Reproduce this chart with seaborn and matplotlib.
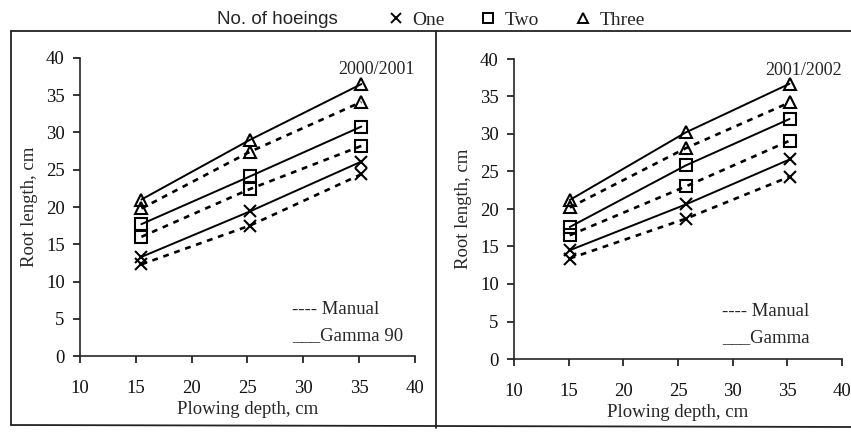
import numpy as np
import pandas as pd
import matplotlib
matplotlib.use("Agg")
import matplotlib.pyplot as plt
from matplotlib.lines import Line2D
import seaborn as sns

# ---------------- data ----------------
hoeings = ["One", "Two", "Three"]
methods = ["Manual", "Gamma"]

depth_2001 = [15.5, 25.2, 35.2]
one_manual_2001 = [12.3, 17.5, 24.4]
one_gamma_2001 = [13.3, 19.4, 26.1]
two_manual_2001 = [16.0, 22.4, 28.2]
two_gamma_2001 = [17.7, 24.1, 30.8]
three_manual_2001 = [19.8, 27.4, 34.1]
three_gamma_2001 = [21.0, 29.0, 36.5]

depth_2002 = [15.1, 25.7, 35.2]
one_manual_2002 = [13.4, 18.7, 24.3]
one_gamma_2002 = [14.5, 20.6, 26.6]
two_manual_2002 = [16.5, 23.0, 29.1]
two_gamma_2002 = [17.6, 25.8, 32.0]
three_manual_2002 = [20.2, 28.1, 34.2]
three_gamma_2002 = [21.2, 30.2, 36.7]

x_ticks = [10, 15, 20, 25, 30, 35, 40]
y_ticks = [0, 5, 10, 15, 20, 25, 30, 35, 40]


def make_df(depth, series):
    rows = []
    for (h, m), vals in series.items():
        for d, v in zip(depth, vals):
            rows.append({"depth": d, "length": v, "hoeings": h, "method": m})
    return pd.DataFrame(rows)


df1 = make_df(depth_2001, {
    ("One", "Manual"): one_manual_2001, ("One", "Gamma"): one_gamma_2001,
    ("Two", "Manual"): two_manual_2001, ("Two", "Gamma"): two_gamma_2001,
    ("Three", "Manual"): three_manual_2001, ("Three", "Gamma"): three_gamma_2001,
})
df2 = make_df(depth_2002, {
    ("One", "Manual"): one_manual_2002, ("One", "Gamma"): one_gamma_2002,
    ("Two", "Manual"): two_manual_2002, ("Two", "Gamma"): two_gamma_2002,
    ("Three", "Manual"): three_manual_2002, ("Three", "Gamma"): three_gamma_2002,
})

# ---------------- style ----------------
sns.set_theme(style="ticks")
plt.rcParams["font.family"] = ["Liberation Serif", "DejaVu Serif"]
plt.rcParams["axes.linewidth"] = 1.2

markers = {"One": "x", "Two": "s", "Three": "^"}
msizes = {"One": 9, "Two": 9, "Three": 8.5}
lstyles = {"Manual": (0, (2.2, 2.2)), "Gamma": "-"}
lwidths = {"Manual": 1.9, "Gamma": 1.4}

fig = plt.figure(figsize=(8.51, 4.36), dpi=100)
ax1 = fig.add_axes([80 / 851, 1 - 356 / 436, 335 / 851, 298 / 436])
ax2 = fig.add_axes([514 / 851, 1 - 359 / 436, 328 / 851, 300 / 436])


def draw(ax, df, year, gamma_label):
    for h in hoeings:
        for m in methods:
            sub = df[(df.hoeings == h) & (df.method == m)]
            sns.lineplot(data=sub, x="depth", y="length", ax=ax, color="black",
                         linestyle=lstyles[m], linewidth=lwidths[m],
                         marker=markers[h], markersize=msizes[h],
                         markerfacecolor="none", markeredgecolor="black",
                         markeredgewidth=1.5, legend=False)
    ax.set_xlim(10, 40)
    ax.set_ylim(0, 40)
    ax.set_xticks(x_ticks)
    ax.set_yticks(y_ticks)
    ax.tick_params(axis="y", direction="out", length=5, width=1.1,
                   labelsize=13.5, colors="black", pad=6)
    ax.tick_params(axis="x", direction="out", length=5, width=1.1,
                   labelsize=13.5, colors="black", pad=12)
    for lab in ax.get_xticklabels() + ax.get_yticklabels():
        lab.set_color("#111111")
    sns.despine(ax=ax)
    ax.set_xlabel("Plowing depth, cm", fontsize=13.5, labelpad=3)
    ax.set_ylabel("Root length, cm", fontsize=13.5, labelpad=6)
    ax.text(40, 39.6, year, ha="right", va="top", fontsize=13)
    ax.text(29.0, 6.3, "---- Manual", ha="left", va="center", fontsize=13.5)
    ax.text(29.0, 2.8, "___" + gamma_label, ha="left", va="center", fontsize=13.5)


draw(ax1, df1, "2000/2001", "Gamma 90")
draw(ax2, df2, "2001/2002", "Gamma")

# top legend
fig.text(217 / 851, 1 - 20 / 436, "No. of hoeings", ha="left", va="center",
         fontsize=13.5, family=["Liberation Sans", "DejaVu Sans"])
handles = [Line2D([], [], linestyle="none", marker=markers[h], markersize=7.5,
                  markerfacecolor="none", markeredgecolor="black",
                  markeredgewidth=1.4) for h in hoeings]
fig.legend(handles, hoeings, loc="center left", ncol=3, frameon=False,
           bbox_to_anchor=(386 / 851, 1 - 20 / 436), fontsize=14,
           handlelength=1.0, handletextpad=0.35, columnspacing=1.75,
           borderaxespad=0, borderpad=0)

# frame lines of the printed figure
for (x0, y0, x1, y1) in [(11, 31, 851, 31), (11, 31, 11, 425),
                         (11, 425, 851, 427), (436, 31, 436, 428)]:
    fig.add_artist(Line2D([x0 / 851, x1 / 851], [1 - y0 / 436, 1 - y1 / 436],
                          color="#222222", linewidth=1.3,
                          transform=fig.transFigure))

fig.savefig("out.png", dpi=100, facecolor="white")
